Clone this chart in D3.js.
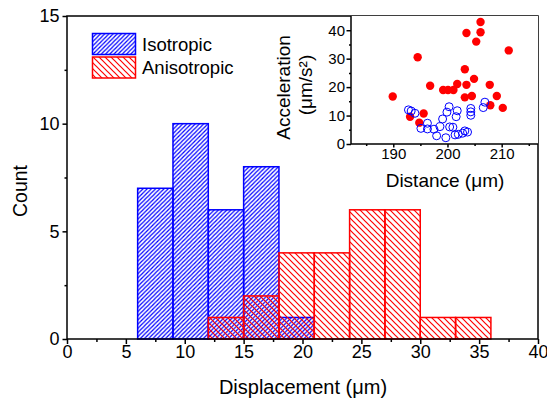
<!DOCTYPE html>
<html>
<head>
<meta charset="utf-8">
<script src="https://cdn.jsdelivr.net/npm/d3@7"></script>
<style>
  body { margin: 0; background: #fff; }
  svg text { font-family: Arial, "Liberation Sans", sans-serif; fill: #000; }
</style>
</head>
<body>
<svg id="chart" width="547" height="403"></svg>
<script>
// histogram bins (left edge of each 3 um bin) and counts
const binWidth = 3;
const isoBins = [6, 9, 12, 15, 18];
const isoCounts = [7, 10, 6, 8, 1];
const anisoBins = [12, 15, 18, 21, 24, 27, 30, 33];
const anisoCounts = [1, 2, 4, 4, 6, 6, 1, 1];

// inset scatter: distance (um) vs acceleration (um/s^2)
const isoDist = [192.8, 193.3, 194.0, 195.1, 196.3, 196.3, 197.5, 198.0, 198.6, 199.1, 199.7, 199.9, 200.3, 200.4, 201.0, 201.4, 201.6, 201.8, 202.0, 202.8, 203.2, 203.7, 204.3, 204.3, 204.3, 206.6, 206.9];
const isoAcc = [12.0, 11.6, 10.8, 5.5, 7.3, 5.3, 5.2, 2.9, 6.1, 8.8, 2.2, 11.2, 13.1, 6.0, 5.9, 3.2, 9.6, 11.7, 3.4, 3.8, 4.6, 4.2, 12.5, 11.3, 10.1, 12.8, 14.7];
const anisoDist = [189.9, 193.1, 194.5, 194.8, 195.6, 196.8, 199.2, 200.1, 201.1, 201.8, 203.2, 203.5, 203.2, 203.5, 204.5, 204.9, 205.3, 206.1, 206.1, 207.8, 207.9, 209.1, 210.2, 211.3];
const anisoAcc = [16.7, 9.6, 30.5, 7.5, 10.7, 20.5, 19.0, 19.0, 19.0, 21.1, 26.3, 39.0, 16.4, 20.8, 16.9, 22.9, 36.0, 42.9, 39.3, 20.8, 13.6, 16.9, 12.7, 32.9];

const xTicks = [0, 5, 10, 15, 20, 25, 30, 35, 40];
const yTicks = [0, 5, 10, 15];
const insetXTicks = [190, 200, 210];
const insetYTicks = [0, 10, 20, 30, 40];

const blue = "#0000ff";
const red = "#ff0000";

const svg = d3.select("#chart");

// hatch patterns
const defs = svg.append("defs");
function hatch(id, color, s, dir, w) {
  const p = defs.append("pattern")
    .attr("id", id)
    .attr("patternUnits", "userSpaceOnUse")
    .attr("width", s)
    .attr("height", s);
  const d = dir === "/"
    ? `M0,${s} L${s},0 M${-s / 4},${s / 4} L${s / 4},${-s / 4} M${3 * s / 4},${5 * s / 4} L${5 * s / 4},${3 * s / 4}`
    : `M0,0 L${s},${s} M${-s / 4},${3 * s / 4} L${s / 4},${5 * s / 4} M${3 * s / 4},${-s / 4} L${5 * s / 4},${s / 4}`;
  p.append("path").attr("d", d).attr("stroke", color).attr("stroke-width", w).attr("fill", "none");
}
hatch("hatchBlue", blue, 4.2, "/", 1.2);
hatch("hatchRed", red, 6, "\\", 1.2);

// main plot
const x = d3.scaleLinear().domain([0, 40]).range([67, 538]);
const y = d3.scaleLinear().domain([0, 15]).range([339, 16]);

const isoData = isoBins.map((b, i) => ({ x0: b, n: isoCounts[i] }));
const anisoData = anisoBins.map((b, i) => ({ x0: b, n: anisoCounts[i] }));

svg.append("g")
  .selectAll("rect")
  .data(isoData)
  .join("rect")
  .attr("x", d => x(d.x0))
  .attr("y", d => y(d.n))
  .attr("width", d => x(d.x0 + binWidth) - x(d.x0))
  .attr("height", d => y(0) - y(d.n))
  .attr("fill", "url(#hatchBlue)")
  .attr("stroke", blue)
  .attr("stroke-width", 1.5);

svg.append("g")
  .selectAll("rect")
  .data(anisoData)
  .join("rect")
  .attr("x", d => x(d.x0))
  .attr("y", d => y(d.n))
  .attr("width", d => x(d.x0 + binWidth) - x(d.x0))
  .attr("height", d => y(0) - y(d.n))
  .attr("fill", "url(#hatchRed)")
  .attr("stroke", red)
  .attr("stroke-width", 1.5);

// axes
function styleAxis(g, size) {
  g.select(".domain").remove();
  g.selectAll("line").attr("stroke", "#000").attr("stroke-width", 1.5);
  g.selectAll("text").attr("font-size", size).style("font-family", "Arial, 'Liberation Sans', sans-serif");
}

svg.append("g")
  .attr("transform", "translate(0,339)")
  .call(d3.axisBottom(x).tickValues(d3.range(2.5, 40, 5)).tickSize(3).tickFormat(""))
  .call(g => styleAxis(g, 18));
svg.append("g")
  .attr("transform", "translate(0,339)")
  .call(d3.axisBottom(x).tickValues(xTicks).tickSize(5).tickPadding(1).tickSizeOuter(0))
  .call(g => styleAxis(g, 18));

svg.append("g")
  .attr("transform", "translate(67,0)")
  .call(d3.axisLeft(y).tickValues([2.5, 7.5, 12.5]).tickSize(2.5).tickFormat(""))
  .call(g => styleAxis(g, 18));
svg.append("g")
  .attr("transform", "translate(67,0)")
  .call(d3.axisLeft(y).tickValues(yTicks).tickSize(4.5).tickPadding(3).tickSizeOuter(0))
  .call(g => styleAxis(g, 18));

svg.append("rect")
  .attr("x", 67).attr("y", 16)
  .attr("width", 538 - 67).attr("height", 339 - 16)
  .attr("fill", "none").attr("stroke", "#000").attr("stroke-width", 1.5);

svg.append("text")
  .attr("x", 303).attr("y", 394)
  .attr("text-anchor", "middle")
  .attr("font-size", 20)
  .text("Displacement (μm)");

svg.append("text")
  .attr("transform", "translate(27,191) rotate(-90)")
  .attr("text-anchor", "middle")
  .attr("font-size", 19.5)
  .text("Count");

// legend
const legend = [
  { label: "Isotropic", fill: "url(#hatchBlue)", color: blue, y: 33.5, ty: 50.5 },
  { label: "Anisotropic", fill: "url(#hatchRed)", color: red, y: 57, ty: 73.5 },
];
const lg = svg.append("g");
lg.selectAll("rect")
  .data(legend)
  .join("rect")
  .attr("x", 92.5).attr("y", d => d.y)
  .attr("width", 43).attr("height", 21)
  .attr("fill", d => d.fill)
  .attr("stroke", d => d.color)
  .attr("stroke-width", 1.5);
lg.selectAll("text")
  .data(legend)
  .join("text")
  .attr("x", 142).attr("y", d => d.ty)
  .attr("font-size", 18.5)
  .text(d => d.label);

// inset
const ix = d3.scaleLinear().domain([182.2, 216.7]).range([351, 538]);
const iy = d3.scaleLinear().domain([0, 45]).range([144, 16]);

svg.append("rect")
  .attr("x", 351).attr("y", 16)
  .attr("width", 538 - 351).attr("height", 144 - 16)
  .attr("fill", "#fff");

svg.append("g")
  .selectAll("circle")
  .data(anisoDist.map((d, i) => [d, anisoAcc[i]]))
  .join("circle")
  .attr("cx", d => ix(d[0]))
  .attr("cy", d => iy(d[1]))
  .attr("r", 4.2)
  .attr("fill", red);

svg.append("g")
  .selectAll("circle")
  .data(isoDist.map((d, i) => [d, isoAcc[i]]))
  .join("circle")
  .attr("cx", d => ix(d[0]))
  .attr("cy", d => iy(d[1]))
  .attr("r", 4)
  .attr("fill", "none")
  .attr("stroke", blue)
  .attr("stroke-width", 1);

svg.append("g")
  .attr("transform", "translate(0,144)")
  .call(d3.axisBottom(ix).tickValues([185, 195, 205, 215]).tickSize(2).tickFormat(""))
  .call(g => styleAxis(g, 15));
svg.append("g")
  .attr("transform", "translate(0,144)")
  .call(d3.axisBottom(ix).tickValues(insetXTicks).tickSize(3.5).tickPadding(1).tickSizeOuter(0))
  .call(g => styleAxis(g, 15));
svg.append("g")
  .attr("transform", "translate(351,0)")
  .call(d3.axisLeft(iy).tickValues([5, 15, 25, 35]).tickSize(2).tickFormat(""))
  .call(g => styleAxis(g, 15));
svg.append("g")
  .attr("transform", "translate(351,0)")
  .call(d3.axisLeft(iy).tickValues(insetYTicks).tickSize(4.5).tickPadding(1.5).tickSizeOuter(0))
  .call(g => styleAxis(g, 15));

svg.append("path")
  .attr("d", "M351,16 V144 H538")
  .attr("fill", "none")
  .attr("stroke", "#000")
  .attr("stroke-width", 1.5);

svg.append("text")
  .attr("x", 445).attr("y", 187)
  .attr("text-anchor", "middle")
  .attr("font-size", 19)
  .text("Distance (μm)");

svg.append("text")
  .attr("transform", "translate(290,87.5) rotate(-90)")
  .attr("text-anchor", "middle")
  .attr("font-size", 19)
  .text("Acceleration");

svg.append("text")
  .attr("transform", "translate(312,85) rotate(-90)")
  .attr("text-anchor", "middle")
  .attr("font-size", 19)
  .text("(μm/s²)");
</script>
</body>
</html>
